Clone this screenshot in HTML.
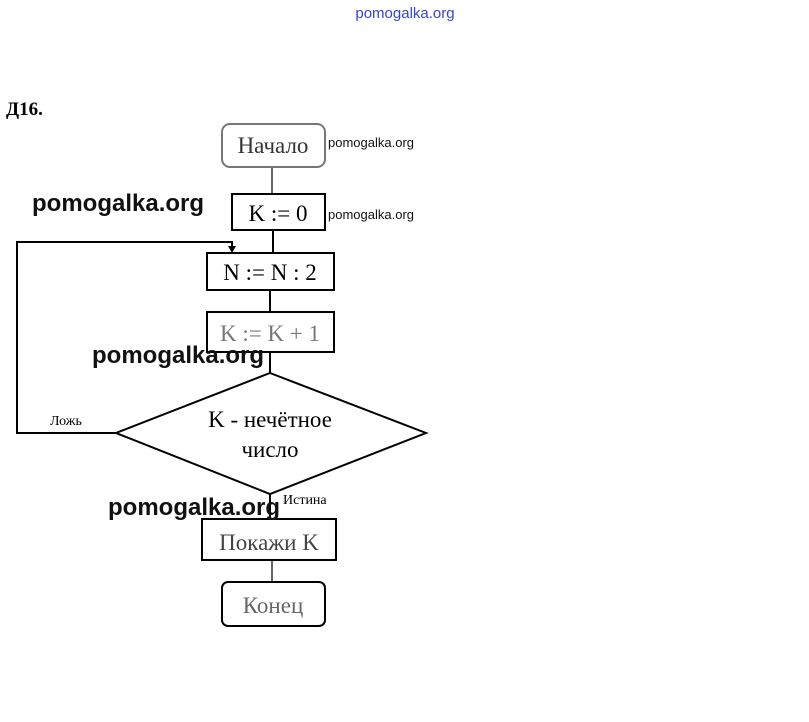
<!DOCTYPE html>
<html><head><meta charset="utf-8"><style>
body{margin:0;width:809px;height:722px;background:#fff;overflow:hidden;position:relative}
.w{position:absolute;font-family:"Liberation Sans",sans-serif;font-weight:bold;color:#111}
</style></head><body>
<svg width="809" height="722" style="position:absolute;left:0;top:0" font-family="Liberation Serif, serif">
<text x="405" y="18" text-anchor="middle" font-family="Liberation Sans, sans-serif" font-size="15" fill="#3344dd">pomogalka.org</text>
<text x="6" y="115" font-size="19" font-weight="bold">Д16.</text>
<g stroke="#000" stroke-width="2" fill="none">
<line x1="272" y1="167" x2="272" y2="193" stroke="#666"/>
<line x1="273" y1="230" x2="273" y2="252"/>
<line x1="270" y1="290" x2="270" y2="311"/>
<line x1="270" y1="352" x2="270" y2="373"/>
<line x1="270" y1="494" x2="270" y2="518"/>
<line x1="272" y1="560" x2="272" y2="581" stroke="#666"/>
<rect x="222" y="124" width="103" height="43" rx="8" stroke="#777"/>
<rect x="232" y="194" width="93" height="36"/>
<rect x="207" y="253" width="127" height="37"/>
<rect x="207" y="312" width="127" height="40"/>
<polygon points="270,373 426,433 270,494 116,433"/>
<polyline points="116,433 17,433 17,242 232,242 232,248"/>
<rect x="202" y="519" width="134" height="41"/>
<rect x="222" y="582" width="103" height="44" rx="6"/>
</g>
<polygon points="228,246 236,246 232,253" fill="#000"/>
<g font-size="23" text-anchor="middle">
<text x="273" y="153" fill="#333">Начало</text>
<text x="278" y="221">K := 0</text>
<text x="270" y="280">N := N : 2</text>
<text x="270" y="341" fill="#777">K := K + 1</text>
<text x="270" y="427">K - нечётное</text>
<text x="270" y="457">число</text>
<text x="269" y="550" fill="#444">Покажи K</text>
<text x="273" y="613" fill="#666">Конец</text>
</g>
<text x="50" y="425" font-size="14">Ложь</text>
<text x="283" y="504" font-size="14">Истина</text>
</svg>
<div class="w" style="left:328px;top:135px;font-size:13px;font-weight:normal">pomogalka.org</div>
<div class="w" style="left:328px;top:207px;font-size:13px;font-weight:normal">pomogalka.org</div>
<div class="w" style="left:32px;top:190px;font-size:24px">pomogalka.org</div>
<div class="w" style="left:92px;top:342px;font-size:24px">pomogalka.org</div>
<div class="w" style="left:108px;top:494px;font-size:24px">pomogalka.org</div>
</body></html>
